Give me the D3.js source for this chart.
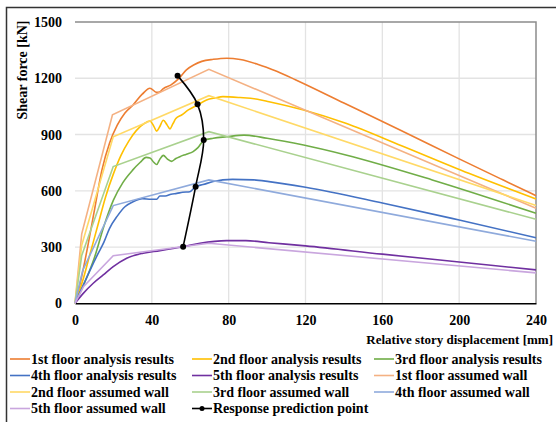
<!DOCTYPE html>
<html>
<head>
<meta charset="utf-8">
<script src="https://cdn.jsdelivr.net/npm/d3@7"></script>
<style>
body{margin:0;background:#fff;}
svg text{font-family:"Liberation Serif","Times New Roman","DejaVu Serif",serif !important;font-weight:bold;fill:#000;}
</style>
</head>
<body>
<div id="chart"></div>
<script>
// tick labels
var xTicks = [0, 40, 80, 120, 160, 200, 240];
var yTicks = [0, 300, 600, 900, 1200, 1500];

// analysis results [displacement mm, shear kN]
var floor1Analysis = [[0,0],[3,120],[6,270],[10,490],[14,710],[18,855],[22,950],[26,1015],[30,1055],[35,1115],[39,1147],[42.5,1125],[44,1127],[46,1145],[50,1165],[54,1198],[58,1245],[62,1272],[66,1290],[72,1301],[79,1307],[86,1300],[95,1275],[105,1237],[115,1191],[140,1068],[170,920],[200,770],[223,657],[240,574]];
var floor2Analysis = [[0,0],[4,120],[8,270],[12,420],[16,570],[20,690],[24,790],[28,865],[32,922],[36,958],[39,972],[41,945],[42.5,918],[44,940],[46,976],[48,950],[49.4,930],[51,958],[52.5,985],[55.5,1004],[59,1031],[63.8,1058],[68.5,1084],[73,1095],[77,1102],[86,1097],[95,1088],[101,1075],[119,1031],[141,960],[170,840],[205,693],[240,556]];
var floor3Analysis = [[0,0],[5,110],[10,240],[15,410],[20,550],[25,645],[30,710],[34,752],[37,778],[39,775],[41,752],[42.5,740],[44,765],[46,789],[48,770],[50.3,757],[52.5,772],[54.6,782],[58,795],[61.5,809],[64,830],[67,868],[72,880],[79,888],[88,897],[100,880],[119,844],[141,791],[186,658],[240,480]];
var floor4Analysis = [[0,0],[4,90],[8,180],[12,265],[15,325],[18,400],[22,465],[26,515],[30,540],[35,558],[39.7,555],[42.5,555],[44.2,572],[47,572],[50,582],[53,586],[56,592],[59.8,595],[62.8,622],[66.7,633],[71.9,649],[82,661],[93,658],[101,649],[120,619],[160,535],[200,444],[240,350]];
var floor5Analysis = [[0,0],[4.3,53],[9.5,107],[14.7,151],[19.9,195],[26.9,240],[35.5,267],[44.2,281],[51,293],[56.3,302],[65,320],[79,334],[89,334],[101,323],[120,306],[160,262],[200,220],[240,178]];

// assumed walls
var floor1Wall = [[0,0],[3.5,370],[19.5,1005],[69.7,1248],[240,507]];
var floor2Wall = [[0,0],[3.5,310],[19.9,888],[69.7,1107],[240,522]];
var floor3Wall = [[0,0],[3.5,255],[19.9,729],[69.7,915],[240,448]];
var floor4Wall = [[0,0],[4,175],[19.9,521],[69.7,658],[240,331]];
var floor5Wall = [[0,0],[4.5,90],[19.9,254],[69.7,320],[240,162]];

// response prediction points
var responsePoints = [[53.4,1214],[63.8,1061],[67,871],[62.8,622],[56.3,302]];

var seriesNames = ["1st floor analysis results","2nd floor analysis results","3rd floor analysis results",
    "4th floor analysis results","5th floor analysis results","1st floor assumed wall",
    "2nd floor assumed wall","3rd floor assumed wall","4th floor assumed wall",
    "5th floor assumed wall","Response prediction point"];
var seriesColors = ["#ED7D31","#FFC000","#70AD47","#4472C4","#7030A0",
    "#F4B183","#FFD966","#A9D18E","#8FAADC","#C9A6DE","#000000"];

var width = 556, height = 422;
var svg = d3.select("#chart").append("svg")
    .attr("width", width)
    .attr("height", height);

// outer frame
svg.append("path")
    .attr("d", "M6.5," + height + "V7.5H" + width)
    .attr("fill", "none")
    .attr("stroke", "#333")
    .attr("stroke-width", 1.5);

var x = d3.scaleLinear().domain([0, 240]).range([75, 536]);
var y = d3.scaleLinear().domain([0, 1500]).range([303.3, 22]);

// grid
svg.append("g").selectAll("line")
    .data(yTicks.filter(function(d){ return d > 0 && d < 1500; }))
    .enter().append("line")
    .attr("x1", x(0)).attr("x2", x(240))
    .attr("y1", function(d){ return y(d); }).attr("y2", function(d){ return y(d); })
    .attr("stroke", "#E3E3E3").attr("stroke-width", 1.3);
svg.append("g").selectAll("line")
    .data(xTicks.filter(function(d){ return d > 0 && d < 240; }))
    .enter().append("line")
    .attr("y1", y(0)).attr("y2", y(1500))
    .attr("x1", function(d){ return x(d); }).attr("x2", function(d){ return x(d); })
    .attr("stroke", "#E3E3E3").attr("stroke-width", 1.3);

// top and right plot border
svg.append("path")
    .attr("d", "M" + x(0) + "," + y(1500) + "H" + x(240) + "V" + y(0))
    .attr("fill", "none").attr("stroke", "#8C8C8C").attr("stroke-width", 1.5);

// axes
var xAxis = d3.axisBottom(x).tickValues(xTicks).tickFormat(d3.format("d")).tickSize(0).tickPadding(12);
var gx = svg.append("g").attr("transform", "translate(0," + y(0) + ")").call(xAxis);
gx.attr("font-family", null).attr("font-size", null);
gx.select(".domain").attr("stroke", "#000").attr("stroke-width", 1.5);
gx.selectAll("text").style("font-size", "14px");

var yAxis = d3.axisLeft(y).tickValues(yTicks).tickFormat(d3.format("d")).tickSize(0).tickPadding(13);
var gy = svg.append("g").attr("transform", "translate(" + x(0) + ",0)").call(yAxis);
gy.attr("font-family", null).attr("font-size", null);
gy.select(".domain").remove();
gy.selectAll("text").style("font-size", "14px");

// titles
svg.append("text")
    .attr("transform", "translate(27,70) rotate(-90)")
    .attr("text-anchor", "middle")
    .style("font-size", "14px")
    .text("Shear force [kN]");
svg.append("text")
    .attr("x", 553).attr("y", 344)
    .attr("text-anchor", "end")
    .style("font-size", "13px")
    .text("Relative story displacement  [mm]");

var line = d3.line()
    .x(function(d){ return x(d[0]); })
    .y(function(d){ return y(d[1]); });

var analysis = [floor1Analysis, floor2Analysis, floor3Analysis, floor4Analysis, floor5Analysis];
var walls = [floor1Wall, floor2Wall, floor3Wall, floor4Wall, floor5Wall];

analysis.forEach(function(s, i){
    svg.append("path")
        .attr("d", line.curve(d3.curveMonotoneX)(s))
        .attr("fill", "none")
        .attr("stroke", seriesColors[i])
        .attr("stroke-width", 1.6);
});
walls.forEach(function(s, i){
    svg.append("path")
        .attr("d", line.curve(d3.curveLinear)(s))
        .attr("fill", "none")
        .attr("stroke", seriesColors[i + 5])
        .attr("stroke-width", 1.6);
});

// response prediction
svg.append("path")
    .attr("d", line.curve(d3.curveCatmullRom)(responsePoints))
    .attr("fill", "none")
    .attr("stroke", "#000")
    .attr("stroke-width", 1.6);
svg.append("g").selectAll("circle")
    .data(responsePoints)
    .enter().append("circle")
    .attr("cx", function(d){ return x(d[0]); })
    .attr("cy", function(d){ return y(d[1]); })
    .attr("r", 3)
    .attr("fill", "#000");

// legend
var colX = [10, 192, 374];
var rowY = [359, 375.5, 392, 408.5];
var leg = svg.append("g").selectAll("g")
    .data(seriesNames)
    .enter().append("g")
    .attr("transform", function(d, i){
        return "translate(" + colX[i % 3] + "," + rowY[Math.floor(i / 3)] + ")";
    });
leg.append("line")
    .attr("x1", 0).attr("x2", 20)
    .attr("stroke", function(d, i){ return seriesColors[i]; })
    .attr("stroke-width", 1.6);
leg.filter(function(d, i){ return i == 10; })
    .append("circle").attr("cx", 10).attr("r", 2.5).attr("fill", "#000");
leg.append("text")
    .attr("x", 21)
    .attr("dy", "0.35em")
    .style("font-size", "14px")
    .text(function(d){ return d; });
</script>
</body>
</html>
